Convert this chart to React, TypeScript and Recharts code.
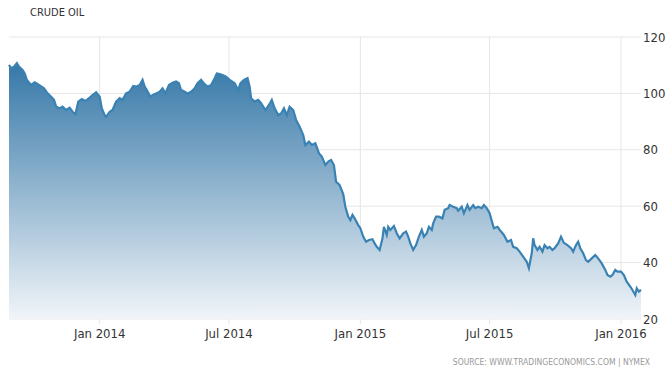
import React from 'react';
import { AreaChart, Area, XAxis, YAxis, CartesianGrid } from 'recharts';

const dates = [
  '2013-08-27', '2013-08-30', '2013-09-03', '2013-09-07', '2013-09-10', '2013-09-15', '2013-09-18', '2013-09-21',
  '2013-09-27', '2013-10-02', '2013-10-08', '2013-10-15', '2013-10-20', '2013-10-25', '2013-10-29', '2013-11-01',
  '2013-11-06', '2013-11-10', '2013-11-15', '2013-11-20', '2013-11-24', '2013-11-28', '2013-12-02', '2013-12-07',
  '2013-12-12', '2013-12-18', '2013-12-22', '2013-12-27', '2014-01-01', '2014-01-04', '2014-01-08', '2014-01-10',
  '2014-01-15', '2014-01-19', '2014-01-24', '2014-01-29', '2014-02-02', '2014-02-07', '2014-02-12', '2014-02-17',
  '2014-02-21', '2014-02-26', '2014-03-02', '2014-03-05', '2014-03-08', '2014-03-13', '2014-03-16', '2014-03-21',
  '2014-03-26', '2014-03-30', '2014-04-03', '2014-04-08', '2014-04-13', '2014-04-18', '2014-04-22', '2014-04-25',
  '2014-04-30', '2014-05-04', '2014-05-09', '2014-05-14', '2014-05-18', '2014-05-23', '2014-05-28', '2014-06-01',
  '2014-06-06', '2014-06-11', '2014-06-14', '2014-06-18', '2014-06-22', '2014-06-27', '2014-07-02', '2014-07-09',
  '2014-07-14', '2014-07-17', '2014-07-22', '2014-07-27', '2014-07-30', '2014-08-01', '2014-08-06', '2014-08-11',
  '2014-08-15', '2014-08-21', '2014-08-26', '2014-08-30', '2014-09-03', '2014-09-08', '2014-09-12', '2014-09-16',
  '2014-09-20', '2014-09-24', '2014-09-29', '2014-10-03', '2014-10-08', '2014-10-13', '2014-10-16', '2014-10-21',
  '2014-10-25', '2014-10-30', '2014-11-04', '2014-11-08', '2014-11-13', '2014-11-17', '2014-11-21', '2014-11-25',
  '2014-11-28', '2014-12-03', '2014-12-08', '2014-12-11', '2014-12-15', '2014-12-18', '2014-12-21', '2014-12-24',
  '2014-12-29', '2015-01-01', '2015-01-05', '2015-01-09', '2015-01-13', '2015-01-18', '2015-01-21', '2015-01-24',
  '2015-01-28', '2015-02-01', '2015-02-03', '2015-02-07', '2015-02-09', '2015-02-12', '2015-02-17', '2015-02-21',
  '2015-02-25', '2015-03-02', '2015-03-06', '2015-03-09', '2015-03-12', '2015-03-16', '2015-03-20', '2015-03-24',
  '2015-03-28', '2015-03-31', '2015-04-04', '2015-04-07', '2015-04-11', '2015-04-13', '2015-04-17', '2015-04-21',
  '2015-04-26', '2015-04-29', '2015-05-04', '2015-05-06', '2015-05-11', '2015-05-16', '2015-05-18', '2015-05-23',
  '2015-05-26', '2015-05-31', '2015-06-03', '2015-06-08', '2015-06-11', '2015-06-15', '2015-06-20', '2015-06-23',
  '2015-06-27', '2015-07-01', '2015-07-05', '2015-07-07', '2015-07-12', '2015-07-17', '2015-07-21', '2015-07-26',
  '2015-07-31', '2015-08-03', '2015-08-08', '2015-08-12', '2015-08-17', '2015-08-22', '2015-08-25', '2015-08-29',
  '2015-08-31', '2015-09-02', '2015-09-06', '2015-09-09', '2015-09-13', '2015-09-16', '2015-09-20', '2015-09-23',
  '2015-09-27', '2015-09-30', '2015-10-05', '2015-10-09', '2015-10-13', '2015-10-18', '2015-10-23', '2015-10-26',
  '2015-10-30', '2015-11-02', '2015-11-05', '2015-11-09', '2015-11-13', '2015-11-16', '2015-11-21', '2015-11-26',
  '2015-11-30', '2015-12-05', '2015-12-10', '2015-12-13', '2015-12-17', '2015-12-20', '2015-12-24', '2015-12-27',
  '2016-01-01', '2016-01-05', '2016-01-09', '2016-01-14', '2016-01-17', '2016-01-21', '2016-01-23', '2016-01-26',
  '2016-01-29',
];

const prices = [
  110.1, 108.9, 109.5, 110.7, 109.5, 108.3, 107.1, 104.8,
  103.0, 103.9, 103.0, 101.8, 100.0, 98.8, 97.7, 95.3,
  94.7, 95.3, 94.1, 94.9, 93.5, 92.6, 97.1, 98.0,
  97.3, 98.5, 99.4, 100.4, 98.8, 94.7, 92.3, 91.7,
  93.5, 94.1, 97.1, 98.3, 97.7, 100.0, 100.6, 102.6,
  102.4, 103.0, 104.8, 102.4, 101.2, 98.8, 99.4, 100.0,
  100.6, 101.8, 100.0, 103.0, 103.8, 104.2, 103.6, 101.2,
  100.6, 100.0, 100.6, 101.8, 103.6, 104.8, 103.3, 102.4,
  103.0, 105.4, 107.1, 106.9, 106.5, 105.9, 104.8, 103.6,
  101.2, 103.6, 104.8, 105.4, 102.4, 98.3, 97.1, 97.7,
  96.5, 94.1, 95.9, 97.7, 94.7, 92.3, 92.9, 94.7,
  92.3, 95.3, 94.1, 90.6, 88.2, 85.2, 81.7, 82.9,
  81.7, 82.3, 78.8, 77.6, 74.6, 75.8, 76.4, 74.6,
  68.7, 67.5, 64.3, 59.8, 56.3, 55.1, 56.9, 55.7,
  53.3, 52.2, 49.2, 47.4, 48.0, 48.3, 46.8, 45.6,
  44.5, 48.6, 52.7, 49.8, 52.7, 51.6, 53.0, 50.4,
  48.6, 50.4, 51.0, 49.2, 46.8, 44.5, 46.2, 49.2,
  51.6, 49.2, 50.4, 52.7, 51.6, 53.9, 56.3, 56.3,
  55.7, 58.7, 59.3, 60.4, 59.8, 59.3, 58.4, 59.8,
  57.5, 60.4, 58.7, 60.4, 59.3, 59.8, 59.3, 60.4,
  59.3, 57.5, 53.9, 52.2, 52.7, 51.0, 49.8, 47.4,
  48.0, 45.6, 45.1, 43.9, 42.1, 40.3, 38.0, 43.3,
  48.6, 46.2, 44.5, 45.6, 43.9, 46.2, 45.1, 45.6,
  44.5, 45.1, 46.8, 49.2, 47.0, 46.2, 45.1, 43.9,
  46.2, 47.4, 45.1, 43.3, 40.9, 40.3, 41.5, 42.7,
  41.5, 39.7, 37.4, 35.6, 35.0, 35.6, 37.4, 36.8,
  36.8, 35.6, 33.2, 31.5, 30.3, 28.5, 30.9, 29.7,
  30.3,
];

const xTickDates = ['2014-01-01', '2014-07-01', '2015-01-01', '2015-07-01', '2016-01-01'];
const xTickLabels = ['Jan 2014', 'Jul 2014', 'Jan 2015', 'Jul 2015', 'Jan 2016'];
const yTicks = [20, 40, 60, 80, 100, 120];

const title = 'CRUDE OIL';
const source = 'SOURCE: WWW.TRADINGECONOMICS.COM | NYMEX';

const data = dates.map((d, i) => ({ t: Date.parse(d), v: prices[i] }));
const xTicks = xTickDates.map((d) => Date.parse(d));
const labelFor = (t: number) => {
  const i = xTicks.indexOf(t);
  return i >= 0 ? xTickLabels[i] : '';
};

const FONT = '"Liberation Sans Narrow", "DejaVu Sans Condensed", "Roboto Condensed", "Liberation Sans", sans-serif';

export default function App() {
  return (
    <div style={{ position: 'absolute', left: 0, top: 0, width: 668, height: 375, background: '#fff', fontFamily: FONT }}>
      <div style={{ position: 'absolute', left: 30, top: 7, fontSize: 11, lineHeight: '12px', color: '#333', fontFamily: FONT }}>
        {title}
      </div>
      <AreaChart width={668} height={375} data={data} margin={{ top: 37, right: 0, left: 9, bottom: 26 }}>
        <defs>
          <linearGradient id="oilFill" x1="0" y1="0" x2="0" y2="1">
            <stop offset="0%" stopColor="#3678a8" stopOpacity={1} />
            <stop offset="100%" stopColor="#f1f5f9" stopOpacity={1} />
          </linearGradient>
        </defs>
        <CartesianGrid stroke="#e6e6e6" syncWithTicks />
        <XAxis
          type="number"
          dataKey="t"
          domain={['dataMin', 'dataMax']}
          ticks={xTicks}
          interval={0}
          tickFormatter={labelFor}
          axisLine={false}
          tickLine={{ stroke: '#e6e6e6' }}
          tickSize={5}
          tickMargin={5}
          height={30}
          tick={{ fill: '#333', fontSize: 13, fontFamily: FONT }}
        />
        <YAxis
          orientation="right"
          domain={[20, 120]}
          ticks={yTicks}
          interval={0}
          axisLine={false}
          tickLine={false}
          tickSize={0}
          tickMargin={2}
          width={27}
          tick={{ fill: '#333', fontSize: 13, fontFamily: FONT, textAnchor: 'start' }}
        />
        <Area
          type="linear"
          dataKey="v"
          stroke="#3a82b3"
          strokeWidth={2.2}
          fill="url(#oilFill)"
          fillOpacity={1}
          dot={false}
          activeDot={false}
          isAnimationActive={false}
        />
      </AreaChart>
      <div style={{ position: 'absolute', right: 18, top: 357, fontSize: 8.5, lineHeight: '10px', color: '#999', fontFamily: FONT, whiteSpace: 'nowrap' }}>
        {source}
      </div>
    </div>
  );
}
